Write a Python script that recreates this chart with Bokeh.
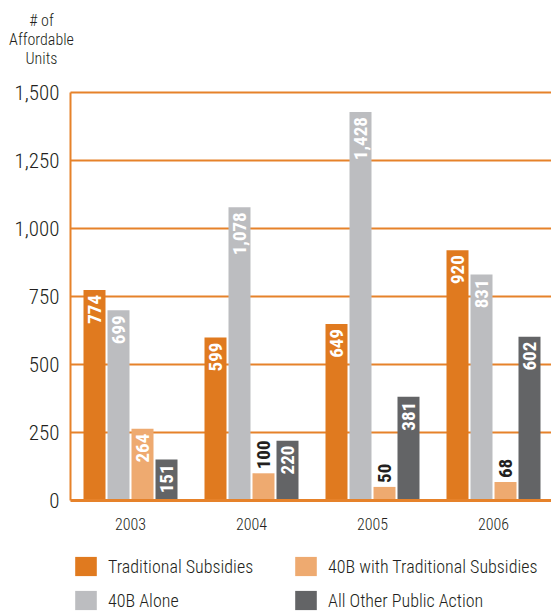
from bokeh.plotting import figure
from bokeh.models import (ColumnDataSource, Range1d, FixedTicker, NumeralTickFormatter,
                          Legend, LegendItem, Label)
from bokeh.transform import dodge
from bokeh.core.properties import value
from bokeh.embed import file_html
from bokeh.resources import INLINE

years = [2003, 2004, 2005, 2006]
series_names = ["Traditional Subsidies", "40B Alone", "40B with Traditional Subsidies", "All Other Public Action"]
traditional = [774, 599, 649, 920]
alone_40b = [699, 1078, 1428, 831]
with_trad_40b = [264, 100, 50, 68]
other_public = [151, 220, 381, 602]
y_ticks = [0, 250, 500, 750, 1000, 1250, 1500]

colors = ["#E07A1F", "#BCBDC0", "#EEAA70", "#636466"]
keys = ["trad", "alone", "with", "other"]
FONT = "'Roboto Condensed', 'DejaVu Sans Condensed', Roboto"
LFONT = "'Roboto Condensed Light', 'Roboto Condensed', Roboto"
ORANGE_LINE = "#E6822A"
TEXT = "#231F20"

src = ColumnDataSource(dict(year=years, trad=traditional, alone=alone_40b,
                            other=other_public))
src.data["with"] = with_trad_40b

W, H = 551, 614
# layout geometry (pixels)
group_px = 121.0
bar_step = 24.0 / group_px
bar_w = 22.0 / group_px
axis_x = 2003 - 60.0 / group_px          # data x where the y axis sits (canvas x=70)
x_lo = axis_x - 70.0 / group_px
x_hi = axis_x + 481.0 / group_px
px_per_unit = 408.0 / 1500.0             # 1500 at canvas y=92, 0 at canvas y=500
y_hi = 1500 + 92.0 / px_per_unit
y_lo = -(H - 500.0) / px_per_unit

p = figure(width=W, height=H, output_backend="svg", toolbar_location=None,
           x_range=Range1d(x_lo, x_hi), y_range=Range1d(y_lo, y_hi),
           min_border=0)
p.outline_line_color = None
p.background_fill_color = "white"

renderers = []
for i, (k, c) in enumerate(zip(keys, colors)):
    off = (i - 1.5) * bar_step
    r = p.vbar(x=dodge("year", off, range=p.x_range), top=k, width=bar_w, bottom=0,
               source=src, fill_color=c, line_color=None)
    renderers.append(r)

# value labels
pad = 5.0 / px_per_unit
for i, k in enumerate(keys):
    vals = src.data[k]
    off = (i - 1.5) * bar_step
    xs, ys, txt, cols, aligns = [], [], [], [], []
    for yr, v in zip(years, vals):
        inside = v * px_per_unit > 36
        xs.append(yr + off)
        ys.append(v - pad if inside else v + pad * 0.8)
        txt.append(f"{v:,}")
        cols.append("white" if inside else TEXT)
        aligns.append("right" if inside else "left")
    lsrc = ColumnDataSource(dict(x=xs, y=ys, t=txt, c=cols, a=aligns))
    p.text(x="x", y="y", text="t", source=lsrc, angle=1.5708, text_align="a",
           text_baseline="middle", text_color="c", text_font=value(FONT),
           text_font_size="19px", text_font_style="bold")

# axes (fixed inside the frame)
yax = p.yaxis[0]
yax.fixed_location = axis_x
yax.bounds = (0, 1500)
yax.ticker = FixedTicker(ticks=y_ticks)
yax.formatter = NumeralTickFormatter(format="0,0")
yax.axis_line_color = ORANGE_LINE
yax.axis_line_width = 2
yax.major_tick_line_color = None
yax.minor_tick_line_color = None
yax.major_label_text_font = LFONT
yax.major_label_text_font_size = "21px"
yax.major_label_text_color = TEXT
yax.major_label_standoff = 5

xax = p.xaxis[0]
xax.fixed_location = 0
xax.bounds = (axis_x, x_hi)
xax.ticker = FixedTicker(ticks=years)
xax.axis_line_color = ORANGE_LINE
xax.axis_line_width = 3
xax.major_tick_line_color = None
xax.minor_tick_line_color = None
xax.major_label_text_font = LFONT
xax.major_label_text_font_size = "16px"
xax.major_label_text_color = TEXT
xax.major_label_standoff = 11

p.xgrid.grid_line_color = None
p.ygrid.ticker = FixedTicker(ticks=y_ticks[1:])
p.ygrid.cross_bounds = (axis_x, x_hi)
p.ygrid.grid_line_color = ORANGE_LINE
p.ygrid.grid_line_width = 2

# heading
p.add_layout(Label(x=41, y=H - 10, x_units="screen", y_units="screen",
                   text="# of\nAffordable\nUnits", text_align="center", text_baseline="top",
                   text_font=LFONT, text_font_size="16px", text_color=TEXT,
                   text_line_height=1.0))

# legends
def make_legend(idx, loc):
    items = [LegendItem(label=series_names[j], renderers=[renderers[j]]) for j in idx]
    return Legend(items=items, location=loc, orientation="vertical",
                  glyph_width=27, glyph_height=24, spacing=10, padding=0, margin=0,
                  label_standoff=9, label_text_font=LFONT, label_text_font_size="18px",
                  label_text_color=TEXT, border_line_color=None,
                  background_fill_alpha=0, label_height=24)

p.add_layout(make_legend([0, 1], (72, 2)), "center")
p.add_layout(make_legend([2, 3], (292, 2)), "center")

open("out.html", "w").write(file_html(p, INLINE))
